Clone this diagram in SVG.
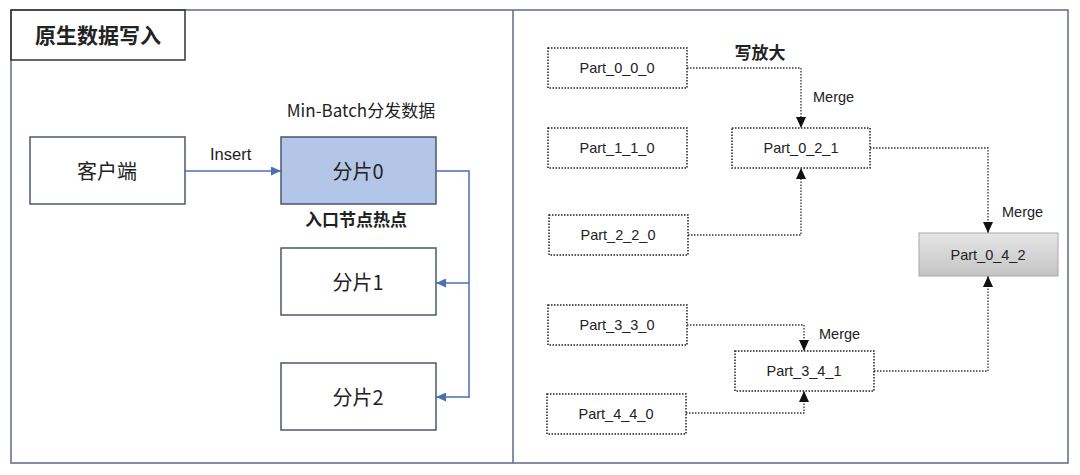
<svg xmlns="http://www.w3.org/2000/svg" width="1080" height="475" viewBox="0 0 1080 475">
  <defs>
    <style>
      .frame { fill: none; stroke: #5b6b86; stroke-width: 1.5; }
      .lbox { fill: #ffffff; stroke: #4a5670; stroke-width: 1.5; }
      .hot { fill: #b4c6e7; stroke: #4a5670; stroke-width: 1.5; }
      .dbox { fill: #ffffff; stroke: #222222; stroke-width: 1.5; stroke-dasharray: 1.5 1.5; }
      .gbox { fill: url(#gray); stroke: #a8a8a8; stroke-width: 1; }
      .cjk { font-family: "Noto Sans CJK SC", "Liberation Sans", sans-serif; fill: #222222; }
      .lat { font-family: "Liberation Sans", "Noto Sans CJK SC", sans-serif; fill: #222222; }
      .blue { fill: none; stroke: #4a6fb5; stroke-width: 1.5; }
      .dot { fill: none; stroke: #333333; stroke-width: 1.3; stroke-dasharray: 1.5 1.5; }
    </style>
    <linearGradient id="gray" x1="0" y1="0" x2="0" y2="1">
      <stop offset="0" stop-color="#e6e6e6"/>
      <stop offset="1" stop-color="#c4c4c4"/>
    </linearGradient>
    <marker id="ab" markerUnits="userSpaceOnUse" markerWidth="10" markerHeight="9" refX="10" refY="4.5" orient="auto">
      <path d="M0,0 L10,4.5 L0,9 z" fill="#4a6fb5"/>
    </marker>
    <marker id="ak" markerUnits="userSpaceOnUse" markerWidth="11" markerHeight="10" refX="11" refY="5" orient="auto">
      <path d="M0,0 L11,5 L0,10 z" fill="#111111"/>
    </marker>
  </defs>

  <rect width="1080" height="475" fill="#ffffff"/>

  <g id="frame">
    <rect class="frame" x="11" y="10" width="1057" height="453"/>
    <line class="frame" x1="513" y1="10" x2="513" y2="463"/>
  </g>

  <g id="title">
    <rect class="frame" x="11" y="10" width="174" height="50" style="stroke:#333333"/>
    <text class="cjk" x="98" y="43" font-size="21" font-weight="bold" text-anchor="middle">原生数据写入</text>
  </g>

  <g id="client">
    <rect class="lbox" x="30" y="137" width="155" height="67"/>
    <text class="cjk" x="107" y="179" font-size="20" text-anchor="middle">客户端</text>
  </g>

  <g id="shard0">
    <rect class="hot" x="281" y="137" width="155" height="67"/>
    <text class="cjk" x="358" y="179" font-size="20" text-anchor="middle">分片0</text>
    <text class="cjk" x="361" y="117" font-size="17" text-anchor="middle">Min-Batch分发数据</text>
    <text class="cjk" x="356" y="226" font-size="17" font-weight="bold" text-anchor="middle">入口节点热点</text>
  </g>

  <g id="shard1">
    <rect class="lbox" x="281" y="248" width="155" height="67"/>
    <text class="cjk" x="358" y="290" font-size="20" text-anchor="middle">分片1</text>
  </g>

  <g id="shard2">
    <rect class="lbox" x="281" y="363" width="155" height="67"/>
    <text class="cjk" x="358" y="405" font-size="20" text-anchor="middle">分片2</text>
  </g>

  <g id="p000">
    <rect class="dbox" x="548" y="48" width="139" height="40"/>
    <text class="lat" x="617" y="73" font-size="14.5" text-anchor="middle">Part_0_0_0</text>
  </g>
  <g id="p110">
    <rect class="dbox" x="548" y="128" width="139" height="40"/>
    <text class="lat" x="617" y="153" font-size="14.5" text-anchor="middle">Part_1_1_0</text>
  </g>
  <g id="p220">
    <rect class="dbox" x="549" y="215" width="139" height="40"/>
    <text class="lat" x="618" y="240" font-size="14.5" text-anchor="middle">Part_2_2_0</text>
  </g>
  <g id="p021">
    <rect class="dbox" x="732" y="128" width="138" height="40"/>
    <text class="lat" x="801" y="153" font-size="14.5" text-anchor="middle">Part_0_2_1</text>
  </g>
  <g id="p042">
    <rect class="gbox" x="919" y="233" width="139" height="43"/>
    <text class="lat" x="988" y="260" font-size="14.5" text-anchor="middle">Part_0_4_2</text>
  </g>
  <g id="p330">
    <rect class="dbox" x="548" y="305" width="139" height="40"/>
    <text class="lat" x="617" y="330" font-size="14.5" text-anchor="middle">Part_3_3_0</text>
  </g>
  <g id="p341">
    <rect class="dbox" x="735" y="351" width="139" height="40"/>
    <text class="lat" x="804" y="376" font-size="14.5" text-anchor="middle">Part_3_4_1</text>
  </g>
  <g id="p440">
    <rect class="dbox" x="547" y="394" width="139" height="40"/>
    <text class="lat" x="616" y="419" font-size="14.5" text-anchor="middle">Part_4_4_0</text>
  </g>

  <g id="labels">
    <text class="cjk" x="760" y="59" font-size="17" font-weight="bold" text-anchor="middle">写放大</text>
    <text class="lat" x="813" y="102" font-size="14.5">Merge</text>
    <text class="lat" x="1002" y="217" font-size="14.5">Merge</text>
    <text class="lat" x="819" y="339" font-size="14.5">Merge</text>
    <text class="lat" x="210" y="160" font-size="16.5">Insert</text>
  </g>

  <g id="connectors">
    <line class="blue" x1="185" y1="171" x2="281" y2="171" marker-end="url(#ab)"/>
    <polyline class="blue" points="436,171 469,171 469,398"/>
    <line class="blue" x1="469" y1="283" x2="436" y2="283" marker-end="url(#ab)"/>
    <line class="blue" x1="469" y1="397" x2="436" y2="397" marker-end="url(#ab)"/>

    <polyline class="dot" points="687,68 801,68 801,128" marker-end="url(#ak)"/>
    <polyline class="dot" points="688,235 801,235 801,168" marker-end="url(#ak)"/>
    <polyline class="dot" points="870,148 988,148 988,233" marker-end="url(#ak)"/>
    <polyline class="dot" points="687,325 804,325 804,351" marker-end="url(#ak)"/>
    <polyline class="dot" points="686,413 804,413 804,391" marker-end="url(#ak)"/>
    <polyline class="dot" points="874,371 988,371 988,276" marker-end="url(#ak)"/>
  </g>
</svg>
